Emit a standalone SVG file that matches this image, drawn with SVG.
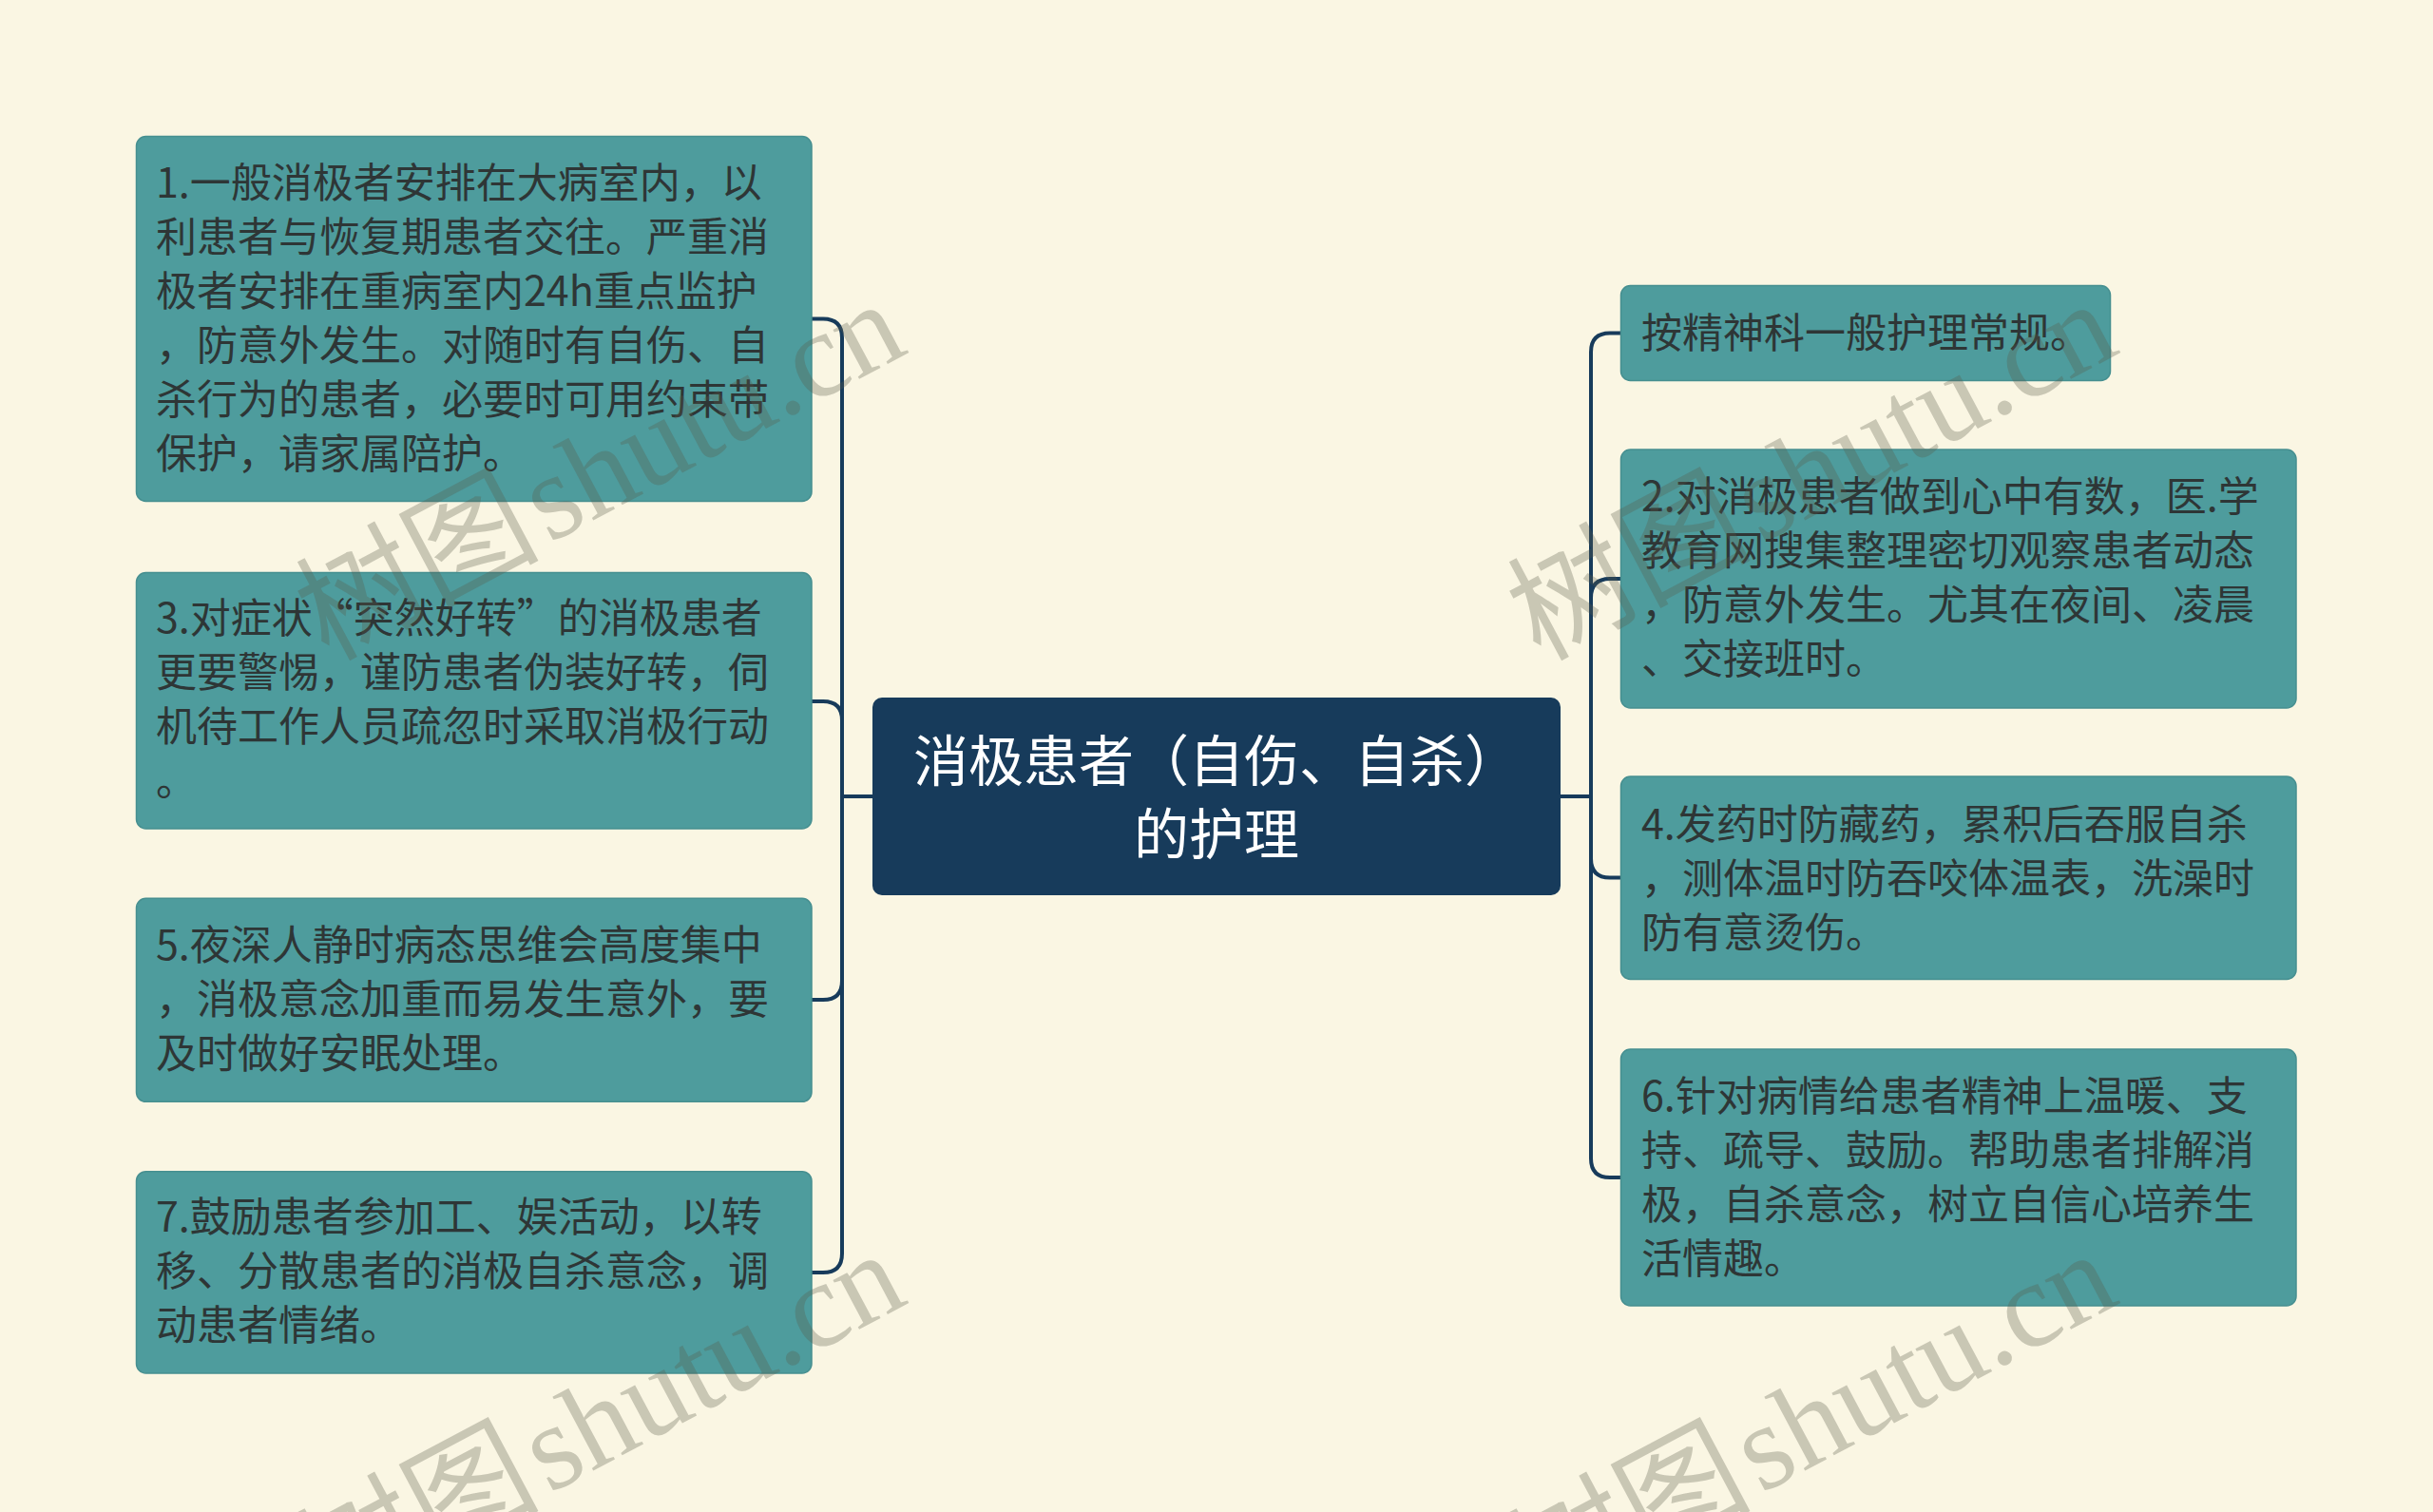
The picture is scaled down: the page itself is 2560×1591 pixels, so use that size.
<svg xmlns="http://www.w3.org/2000/svg" width="2560" height="1591" viewBox="0 0 2560 1591">
<style>
.bg{fill:#faf6e3}
.box{fill:#4e9c9d;stroke:#468f90;stroke-width:1.5}
.root{fill:#173b5b}
.t{font-family:"Noto Sans CJK SC","Noto Sans",sans-serif;font-size:43px;fill:#2e3636}
.rt{font-family:"Noto Sans CJK SC","Noto Sans",sans-serif;font-size:58px;fill:#ffffff;text-anchor:middle}
.conn{fill:none;stroke:#173b5b;stroke-width:4;stroke-linecap:round}
.wm{font-family:"Liberation Serif","Noto Sans CJK SC",serif;font-size:128px;fill:#5a5a4a;fill-opacity:0.3}
</style>
<rect class="bg" x="0" y="0" width="2560" height="1591"/>
<g id="connectors">
<path class="conn" d="M918 838 H886 V355.5 Q886 335.5 866 335.5 H854"/>
<path class="conn" d="M918 838 H886 V758 Q886 738 866 738 H854"/>
<path class="conn" d="M918 838 H886 V1032 Q886 1052 866 1052 H854"/>
<path class="conn" d="M918 838 H886 V1319 Q886 1339 866 1339 H854"/>
<path class="conn" d="M1642 838 H1674 V370.5 Q1674 350.5 1694 350.5 H1706"/>
<path class="conn" d="M1642 838 H1674 V629 Q1674 609 1694 609 H1706"/>
<path class="conn" d="M1642 838 H1674 V903.5 Q1674 923.5 1694 923.5 H1706"/>
<path class="conn" d="M1642 838 H1674 V1219 Q1674 1239 1694 1239 H1706"/>
</g>
<g id="root">
<rect class="root" x="918" y="734" width="724" height="208" rx="10"/>
<text class="rt" x="1280" y="822">消极患者（自伤、自杀）</text>
<text class="rt" x="1280" y="899">的护理</text>
</g>
<g id="n1">
<rect class="box" x="143.5" y="143.5" width="710.5" height="384" rx="10"/>
<text class="t" x="164" y="208">1.一般消极者安排在大病室内，以</text>
<text class="t" x="164" y="265">利患者与恢复期患者交往。严重消</text>
<text class="t" x="164" y="322">极者安排在重病室内24h重点监护</text>
<text class="t" x="164" y="379">，防意外发生。对随时有自伤、自</text>
<text class="t" x="164" y="436">杀行为的患者，必要时可用约束带</text>
<text class="t" x="164" y="493">保护，请家属陪护。</text>
</g>
<g id="n3">
<rect class="box" x="143.5" y="602.5" width="710.5" height="269.5" rx="10"/>
<text class="t" x="164" y="666">3.对症状“突然好转”的消极患者</text>
<text class="t" x="164" y="723">更要警惕，谨防患者伪装好转，伺</text>
<text class="t" x="164" y="780">机待工作人员疏忽时采取消极行动</text>
<text class="t" x="164" y="837">。</text>
</g>
<g id="n5">
<rect class="box" x="143.5" y="945.3" width="710.5" height="214" rx="10"/>
<text class="t" x="164" y="1010">5.夜深人静时病态思维会高度集中</text>
<text class="t" x="164" y="1067">，消极意念加重而易发生意外，要</text>
<text class="t" x="164" y="1124">及时做好安眠处理。</text>
</g>
<g id="n7">
<rect class="box" x="143.5" y="1232.7" width="710.5" height="212.3" rx="10"/>
<text class="t" x="164" y="1296">7.鼓励患者参加工、娱活动，以转</text>
<text class="t" x="164" y="1353">移、分散患者的消极自杀意念，调</text>
<text class="t" x="164" y="1410">动患者情绪。</text>
</g>
<g id="r1">
<rect class="box" x="1705.5" y="300.5" width="515" height="100" rx="10"/>
<text class="t" x="1727" y="366">按精神科一般护理常规。</text>
</g>
<g id="r2">
<rect class="box" x="1705.5" y="473" width="710.5" height="272" rx="10"/>
<text class="t" x="1727" y="538">2.对消极患者做到心中有数，医.学</text>
<text class="t" x="1727" y="595">教育网搜集整理密切观察患者动态</text>
<text class="t" x="1727" y="652">，防意外发生。尤其在夜间、凌晨</text>
<text class="t" x="1727" y="709">、交接班时。</text>
</g>
<g id="r4">
<rect class="box" x="1705.5" y="817" width="710.5" height="213.5" rx="10"/>
<text class="t" x="1727" y="883">4.发药时防藏药，累积后吞服自杀</text>
<text class="t" x="1727" y="940">，测体温时防吞咬体温表，洗澡时</text>
<text class="t" x="1727" y="997">防有意烫伤。</text>
</g>
<g id="r6">
<rect class="box" x="1705.5" y="1104" width="710.5" height="270" rx="10"/>
<text class="t" x="1727" y="1169">6.针对病情给患者精神上温暖、支</text>
<text class="t" x="1727" y="1226">持、疏导、鼓励。帮助患者排解消</text>
<text class="t" x="1727" y="1283">极，自杀意念，树立自信心培养生</text>
<text class="t" x="1727" y="1340">活情趣。</text>
</g>
<g id="watermarks">
<text class="wm" transform="translate(345 696) rotate(-28)">树图<tspan dx="8">shutu.cn</tspan></text>
<text class="wm" transform="translate(1620 696) rotate(-28)">树图<tspan dx="8">shutu.cn</tspan></text>
<text class="wm" transform="translate(345 1696) rotate(-28)">树图<tspan dx="8">shutu.cn</tspan></text>
<text class="wm" transform="translate(1620 1696) rotate(-28)">树图<tspan dx="8">shutu.cn</tspan></text>
</g>
</svg>
